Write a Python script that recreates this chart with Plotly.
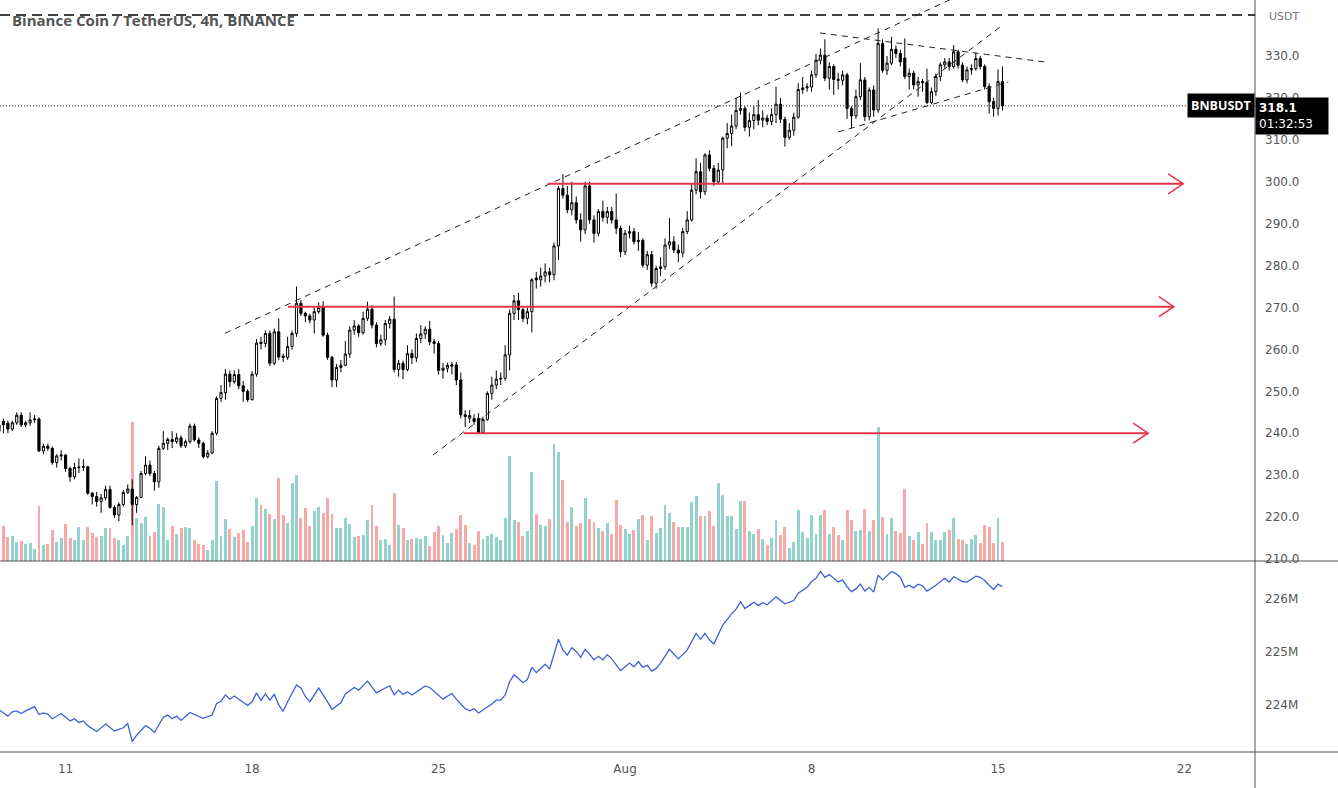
import pandas as pd
import plotly.graph_objects as go

# ---------------- data (BNB/USDT, 4h candles from 2021-07-08 12:00) ----------------
start = pd.Timestamp("2021-07-08 12:00")

opens = [240.5,242.8,242.4,241,242.5,244.3,242,242.5,243.2,243.4,
235.8,236.9,236.4,233,234.6,234.8,231.6,229.6,231.8,231.9,
232,225.7,224.9,223.7,224.6,226.6,222.3,220.5,223,225.9,
226.7,223,224.7,230.4,232.4,230.4,228.4,236.4,237.6,238.5,
238.0,238.9,237,238,241.7,238.4,237.6,234.4,235.3,240,
248.3,249.7,254.1,252.3,254,251.3,250,248,254.1,261.7,
261.4,263.8,256.7,264.2,258.4,258.1,260.7,263.8,271,268.6,
268,267,269,270,263.4,258.1,252.7,255.7,256.2,258.9,
264.6,265.6,264,267.4,269.6,265.8,261.4,262.3,266.2,267.2,
255.2,256.7,255.2,259,258,262.6,263.7,264.8,261.8,261.4,
255,255.5,256.0,256.3,252.7,244.4,243.6,243.5,243.5,240.2,
243.3,249.5,251.5,252.9,253.1,258.7,268.6,271.6,269.5,267.4,
269,277,276.6,277.5,278.5,277.8,284.7,298.4,296.8,293.3,
295,290.9,288.5,299,290.9,287.7,292.9,291.5,292.9,290.9,
288.9,283.3,287.7,288.1,285.7,286,280.1,282.6,275.8,279.3,
279.7,284.9,285.7,283.7,283,288.1,290.9,298,302.4,297.6,
306.4,303.2,300,302.8,310.4,311.5,313.3,317,317.5,313,
314.6,316,314.7,315.2,314.4,316,318.5,314.9,310.6,312.3,
315.4,322,322.4,322.6,325.5,329,330.2,324.7,327.5,324.4,
324.2,325.5,317.5,315.7,320.3,324.3,315.5,321.9,317.1,333,
326.6,328.3,331.6,330.6,329.5,325.1,325.9,323.1,323.9,323.7,
318.9,321.5,325.1,327.9,328.6,327.5,331,327.8,324.3,326.7,
327,329.4,327.5,322.7,319.1,317.5,323.9]

highs = [243,243.5,243,243,245,245,243,245,244.3,243.8,
237.5,237.5,236.8,235,236,235,232,233,234,233.8,
232.2,226,226,225.5,227.5,227.5,222.8,223.5,226.5,227.8,
229,225,231,234.5,233.5,231,237,240.5,239,240.5,
240,239.5,238.5,242.3,242.3,239,238,236,240.5,248.8,
251.5,255.3,255,255,255.3,252.5,250.5,254.8,262.5,263,
264.5,264.5,265,267.4,259,263,264.5,275,271.8,269,
268.5,270,271.2,271.5,264,258.5,256.5,257.5,262,265.5,
267,266,269,271.4,270.5,266.5,263.5,267,268,272.6,
257.5,257.3,261,260,263.8,265.8,265.5,266.8,262.5,262,
256.8,256.8,257,257,254.5,245.5,245.5,244.5,244.8,244,
250,253.5,255,254.5,261,269.5,273,273.5,270,270,
277,278.5,279.5,280.5,279.5,285.5,299,301.8,299,300,
296.5,292.5,300,300,292,293.5,295.5,294,294,297.2,
289.5,288.5,289.5,289,288,286.5,283.5,283.5,280,282,
286.5,291.3,287,285,289,293,299.5,305.6,304.5,306.8,
307.5,304,304.5,310.8,314,316,320,321.3,318,316.5,
318,319.5,317,316,317.5,322.7,320,315.5,314,316.5,
323.5,325,323.5,326.5,330.5,331.8,334,328.5,328,326,
326.5,326,318,322,328.3,325,322.5,323,336.6,334,
330,334.6,332.5,331.5,334.2,327,326.5,325,324.5,327,
322.5,325.8,328.5,329.5,329.5,332.6,331.5,328.5,327.5,328,
330.8,330,328,323.5,320,326.8,327.5]

lows = [239.5,240,240,240.5,242,241.5,241.5,241.8,242.5,235.5,
235,235.8,232.5,231.8,233.5,230.8,228.4,229,230.5,231,
225.3,223,222.5,221,224,222,219.8,219,222.5,225.5,
218,221,224.5,230,229.8,226.3,227,236,236,236.5,
237.5,236.5,236.5,237.5,238,236.5,234,234,235,239.5,
247.5,248,251,251.8,250.5,247.5,247.5,247.8,253.5,260,
260.5,256,256.2,257.5,257,257.5,260,263,268,266.5,
266.2,263.8,268.5,263,257.5,251,251,254.5,256,258,
263.5,263,263.5,266.8,265,260.5,260.8,261,265,254.5,
253.5,252.9,254.8,256.5,257,261.5,262.5,261,259,254,
253,254.5,254,251.5,243.5,241.5,242.5,242,239.8,239.8,
243,248,250.5,251.5,252.5,255,267,267,266.5,266,
264,274.5,275,276,276,276.5,281.3,296,292.5,292,
290,285.7,287.5,290,285.5,287,290.5,290,290,287.5,
282,282.5,286.5,285,283.5,279.5,279,275,274.5,277.5,
279,284,283,280.8,282,287.5,290.5,297,296,296.8,
302.5,299,299.5,299.5,308,308.5,312.5,316,312,310.8,
312.5,313.5,313,313.5,313.5,314,314,308.4,310,311,
315,321,321.5,321.5,324.8,328,324,322,320.7,322,
323,315,312.7,315,319.5,314.5,314.7,315.5,316.5,326,
325.5,327.8,329.5,327.5,324.5,322,322,320.3,321.5,318.5,
318.5,320.5,324,327,326.5,327,327,323.8,323.5,325.5,
326.5,326.8,322,316.3,315.5,315.8,317]

closes = [242,242.0,241,242.5,244.3,242,242.5,243.2,243.4,235.8,
236.9,236.4,233,234.6,234.8,231.6,229.6,231.8,231.9,232.0,
225.7,224.9,223.7,224.6,226.6,222.3,220.5,223,225.9,226.7,
223,224.7,230.4,232.4,230.4,228.4,236.4,237.6,238.5,238.0,
238.9,237.0,238,241.7,238.4,237.6,234.4,235.3,240,248.3,
249.7,254.1,252.3,254,251.3,250,248,254.1,261.5,261.4,
263.8,256.7,264.2,258.2,258.1,260.7,263.8,271,268.6,268,
267,269,270,263.4,258.1,252.7,255.7,256.2,258.9,264.6,
265.6,264,267.4,269.6,265.8,261.4,262.3,266.2,267.2,255.2,
256.7,255.2,259,258,262.6,263.7,264.8,261.8,261.4,255,
255.5,256.2,256.3,252.7,244.4,244,244.2,242.8,240,243.3,
249.5,251.5,252.9,253.1,258.7,268.6,271.6,269.5,267.4,269,
276.6,276.6,277.5,278.5,277.8,284.7,298.4,296.8,293.3,295,
290.9,288.5,299,290.9,287.7,292.9,291.5,292.9,290.9,288.9,
283.3,287.7,288.1,285.7,286,280.1,282.6,275.8,279.3,279.7,
284.9,285.7,283.7,283,288.1,290.9,298,302.4,297.6,306.4,
303.2,300,302.8,310.4,311.5,313.3,317,317.5,313,314.6,
316,314.7,315.2,314.4,316,318.5,314.9,310.6,312.3,315.4,
322,322.4,322.6,325.5,329,330.2,324.7,327.5,324.4,324.2,
325.5,317.5,315.7,320.3,324.3,315.5,321.9,317.1,333,326.6,
328.3,331.6,330.6,328.6,325.1,325.9,323.1,323.9,323.7,318.9,
321.5,325.1,327.9,328.6,327.5,331,327.8,324.3,326.7,327,
329.4,327.5,322.7,319.1,317.5,323.9,318.1]

# volume, thousand BNB
volumes = [169,88,61,63,48,50,43,44,31,138,
40,43,78,48,58,93,58,53,84,53,
84,69,61,63,82,83,57,53,40,63,
348,107,94,109,63,73,142,136,53,88,
68,82,86,82,53,43,40,28,53,199,
63,104,81,59,69,78,48,88,158,140,
129,118,105,208,114,94,194,214,108,132,
88,125,136,119,158,117,83,83,107,92,
61,63,65,103,139,87,53,54,40,169,
89,82,53,56,58,56,63,38,73,87,
64,44,70,81,115,89,44,39,74,55,
63,68,61,53,107,263,103,97,63,74,
223,118,89,88,104,293,273,203,98,135,
88,94,158,104,97,83,74,94,68,153,
89,79,68,78,105,114,53,113,69,83,
139,119,98,85,84,84,148,163,113,113,
125,88,195,165,113,113,80,150,150,74,
68,81,56,40,58,103,65,86,33,48,
128,73,58,115,68,115,128,68,85,65,
53,128,103,75,78,130,75,103,335,110,
68,108,74,70,180,63,53,73,43,94,
73,53,53,73,78,108,55,53,43,55,
65,45,90,85,45,108,48]

# On-balance volume readings (candle index, value in millions)
obv_idx = [0,2,3,4,5,6,8,9,10,11,12,14,15,16,17,18,19,20,22,24,26,28,29,30,31,33,34,35,37,38,
39,40,41,43,46,48,49,50,51,52,53,56,57,58,59,60,61,62,63,64,65,67,68,69,70,72,74,75,77,78,
80,81,83,85,87,88,89,90,91,92,93,96,97,100,102,103,105,106,107,108,111,112,113,114,115,116,117,118,119,120,
121,122,123,124,125,126,127,128,129,130,131,132,133,134,135,136,137,138,140,141,142,143,144,145,146,147,148,149,151,153,
155,157,158,159,160,161,163,165,166,167,168,169,170,171,172,173,175,177,179,180,181,182,183,184,185,186,187,188,189,190,
191,192,193,194,195,196,197,198,199,201,202,203,204,205,206,207,208,209,211,213,214,215,217,218,220,221,222,223,224,225,226]
obv_m = [223.91,223.79,223.87,223.89,223.84,223.89,223.97,223.82,223.85,223.83,223.74,223.84,223.77,223.70,223.74,223.67,223.70,223.61,223.50,223.64,223.51,223.57,223.65,223.31,223.43,223.61,223.56,223.48,223.77,223.81,
223.74,223.79,223.71,223.86,223.75,223.81,224.03,224.07,224.19,224.11,224.17,223.99,224.06,224.23,224.09,224.21,224.09,224.20,224.00,223.88,224.06,224.38,224.32,224.16,224.06,224.32,224.06,223.92,224.04,224.21,
224.33,224.28,224.45,224.23,224.32,224.36,224.19,224.28,224.20,224.25,224.19,224.36,224.33,224.11,224.22,224.11,223.93,223.89,223.93,223.85,224.02,224.09,224.09,224.19,224.44,224.57,224.50,224.42,224.48,224.71,
224.61,224.69,224.77,224.68,224.96,225.24,225.04,224.94,225.08,225.01,224.90,225.05,224.96,224.85,224.92,224.85,224.95,224.87,224.65,224.72,224.79,224.72,224.82,224.71,224.75,224.64,224.69,224.79,225.05,224.87,
225.04,225.35,225.24,225.35,225.23,225.15,225.51,225.72,225.81,225.95,225.82,225.88,225.94,225.88,225.93,225.89,226.04,225.91,225.97,226.11,226.16,226.22,226.33,226.39,226.52,226.41,226.46,226.39,226.32,226.36,
226.23,226.14,226.19,226.28,226.15,226.22,226.13,226.45,226.36,226.52,226.48,226.41,226.22,226.26,226.21,226.28,226.25,226.15,226.26,226.39,226.32,226.42,226.33,226.32,226.43,226.41,226.35,226.26,226.18,226.28,226.23]

price_ticks = [210, 220, 230, 240, 250, 260, 270, 280, 290, 300, 310, 320, 330]
obv_ticks = [224, 225, 226]
date_ticks = ["2021-07-11", "2021-07-18", "2021-07-25", "2021-08-01", "2021-08-08", "2021-08-15", "2021-08-22"]
date_labels = ["11", "18", "25", "Aug", "8", "15", "22"]

# user drawings: (start candle, start price, end candle, end price)
trend_lines = [(50.9, 263.85, 216.4, 344.5),
               (97.75, 234.8, 225.45, 336.9),
               (184.9, 335.49, 235.6, 328.57),
               (189.0, 311.87, 227.3, 323.8)]
# horizontal arrows: (start candle, price, end candle)
level_arrows = [(65.1, 270.2, 264.6), (104.7, 240.0, 258.8), (123.6, 299.5, 266.7)]
top_level = 339.8
last_price = 318.1


def t(k):
    return start + pd.Timedelta(hours=4 * k)


times = [t(i) for i in range(len(closes))]
UP_VOL, DN_VOL = "#92d2cc", "#f7a9a7"
vol_colors = [UP_VOL if c >= o else DN_VOL for o, c in zip(opens, closes)]

fig = go.Figure()
fig.add_trace(go.Bar(x=times, y=volumes, marker=dict(color=vol_colors, line=dict(width=0)),
                     width=4 * 3600 * 1000 * 0.66, xaxis="x", yaxis="y", hoverinfo="skip"))
fig.add_trace(go.Candlestick(x=times, open=opens, high=highs, low=lows, close=closes,
                             xaxis="x", yaxis="y3", whiskerwidth=0,
                             increasing=dict(line=dict(color="#000000", width=1), fillcolor="#ffffff"),
                             decreasing=dict(line=dict(color="#000000", width=1), fillcolor="#000000")))
fig.add_trace(go.Scatter(x=[t(k) for k in obv_idx], y=obv_m, mode="lines",
                         line=dict(color="#3f5fd8", width=1.3), xaxis="x", yaxis="y2"))

TOP = 1 - 561 / 752
AX_FONT = dict(family="DejaVu Sans", size=12, color="#555555")

shapes = []
# frame lines
shapes.append(dict(type="line", xref="paper", yref="paper", x0=1, x1=1, y0=-36 / 752, y1=1,
                   line=dict(color="#505050", width=1)))
shapes.append(dict(type="line", xref="paper", yref="paper", x0=0, x1=1338 / 1255, y0=TOP, y1=TOP,
                   line=dict(color="#505050", width=1)))
shapes.append(dict(type="line", xref="paper", yref="paper", x0=0, x1=1338 / 1255, y0=0, y1=0,
                   line=dict(color="#505050", width=1)))
# top dashed level and last price dotted line
shapes.append(dict(type="line", xref="paper", yref="y3", x0=0, x1=1, y0=top_level, y1=top_level,
                   line=dict(color="#000000", width=1.5, dash="10px,6px")))
shapes.append(dict(type="line", xref="paper", yref="y3", x0=0, x1=1, y0=last_price, y1=last_price,
                   line=dict(color="#222222", width=1, dash="1px,2px")))
for k0, p0, k1, p1 in trend_lines:
    shapes.append(dict(type="line", xref="x", yref="y3", x0=t(k0), x1=t(k1), y0=p0, y1=p1,
                       line=dict(color="#222222", width=1, dash="6px,5px")))
RED = "#e5344a"
for k0, p, k1 in level_arrows:
    shapes.append(dict(type="line", xref="x", yref="y3", x0=t(k0), x1=t(k1), y0=p, y1=p,
                       line=dict(color=RED, width=2)))
    shapes.append(dict(type="path", xref="x", yref="y3", xsizemode="pixel", ysizemode="pixel",
                       xanchor=str(t(k1)), yanchor=p, path="M-15,10 L0,0 L-15,-10",
                       line=dict(color=RED, width=1.5)))

annotations = [
    dict(xref="paper", yref="paper", x=10 / 1255, y=1 - 20 / 752, xanchor="left", yanchor="middle",
         text="<b>Binance Coin / TetherUS, 4h, BINANCE</b>", showarrow=False,
         font=dict(family="Open Sans", size=15, color="#555555")),
    dict(xref="paper", yref="paper", x=1 + 12 / 1255, y=1 - 16 / 752, xanchor="left", yanchor="middle",
         text="USDT", showarrow=False, font=dict(family="DejaVu Sans", size=11, color="#777777")),
    dict(xref="paper", yref="y3", x=1, y=last_price, xanchor="right", yanchor="middle",
         text="<b>BNBUSDT</b>", showarrow=False, bgcolor="#000000", borderpad=3,
         font=dict(family="Open Sans", size=12.5, color="#ffffff")),
    dict(xref="paper", yref="y3", x=1, y=last_price, xanchor="left", yanchor="top", yshift=9,
         text="<b>318.1</b><br>01:32:53", align="left", showarrow=False, bgcolor="#000000",
         borderpad=3, width=66, font=dict(family="DejaVu Sans", size=12, color="#ffffff")),
]

fig.update_layout(
    template="none", width=1338, height=788, showlegend=False,
    margin=dict(l=0, r=83, t=0, b=36, pad=0),
    paper_bgcolor="#ffffff", plot_bgcolor="#ffffff",
    bargap=0, shapes=shapes, annotations=annotations,
    xaxis=dict(type="date", range=["2021-07-08 12:54", "2021-08-24 15:30"], anchor="y2",
               showgrid=False, zeroline=False, showline=False, ticks="",
               tickvals=date_ticks, ticktext=date_labels, tickfont=AX_FONT,
               rangeslider=dict(visible=False), automargin=False, ticklabelstandoff=8),
    yaxis=dict(domain=[TOP, 1], range=[0, 1402.5], visible=False, fixedrange=True),
    yaxis3=dict(overlaying="y", anchor="x", side="right", range=[209.52, 343.36],
                tickvals=price_ticks, ticktext=[f"{v:.1f}" for v in price_ticks],
                showgrid=False, zeroline=False, showline=False, ticks="",
                tickfont=AX_FONT, automargin=False, ticklabelstandoff=9),
    yaxis2=dict(domain=[0, TOP], anchor="x", side="right", range=[223.113, 226.717],
                tickvals=obv_ticks, ticktext=[f"{v}M" for v in obv_ticks],
                showgrid=False, zeroline=False, showline=False, ticks="",
                tickfont=AX_FONT, automargin=False, ticklabelstandoff=9),
)

fig.write_html("out.html", config={"displayModeBar": False},
               post_script="document.body.style.margin='0';document.body.style.overflow='hidden';")
